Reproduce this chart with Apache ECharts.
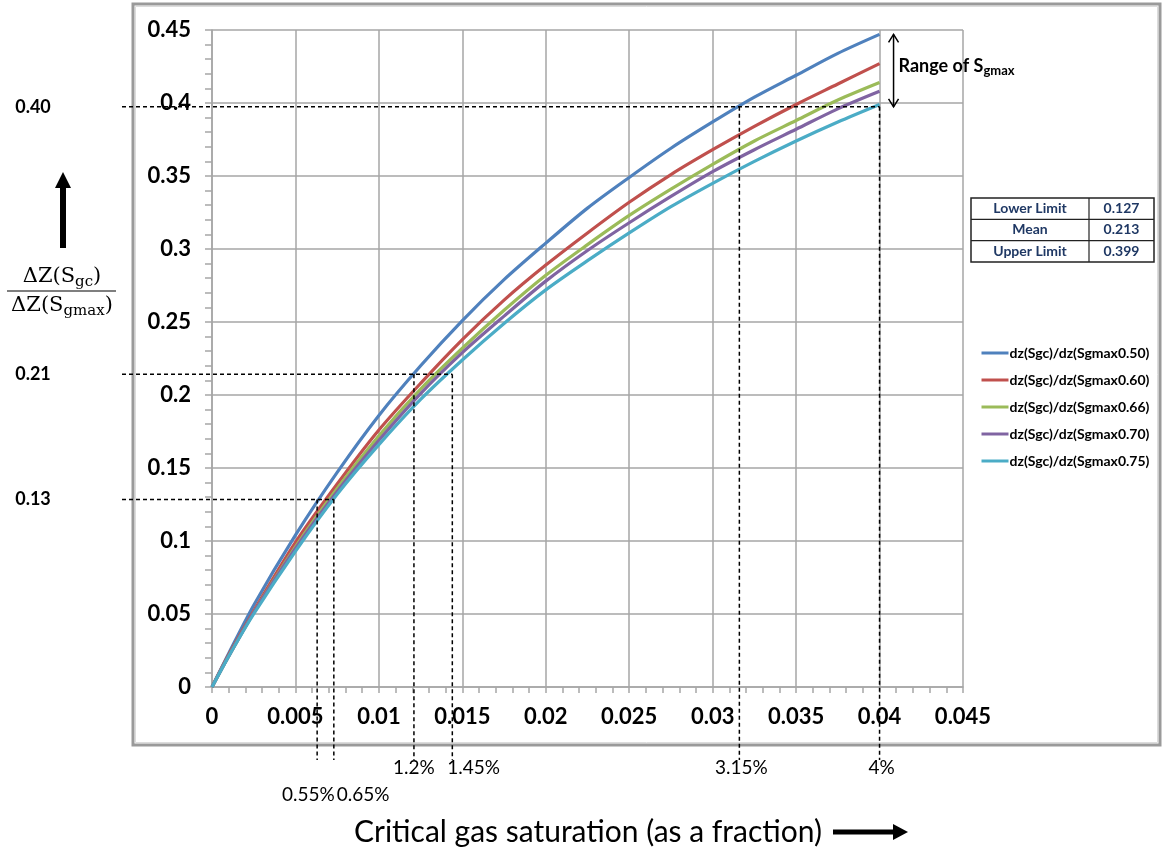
<!DOCTYPE html>
<html>
<head>
<meta charset="utf-8">
<script src="https://cdn.jsdelivr.net/npm/echarts@6/dist/echarts.min.js"></script>
<style>
  html, body { margin: 0; background: #fff; }
  #chart { width: 1169px; height: 852px; }
</style>
</head>
<body>
<div id="chart"></div>
<script>
// critical gas saturation (fraction)
const sgc = [0, 0.001, 0.0025, 0.005, 0.0075, 0.01, 0.0125, 0.015, 0.0175, 0.02, 0.0225, 0.025, 0.0275, 0.03, 0.0325, 0.035, 0.0375, 0.04]

// dz(Sgc)/dz(Sgmax) for each Sgmax
const sgmax050 = [0, 0.023, 0.056, 0.104, 0.147, 0.186, 0.220, 0.251, 0.279, 0.304, 0.328, 0.349, 0.369, 0.387, 0.404, 0.419, 0.434, 0.447]
const sgmax060 = [0, 0.022, 0.052, 0.099, 0.139, 0.176, 0.208, 0.238, 0.265, 0.289, 0.311, 0.332, 0.351, 0.368, 0.384, 0.399, 0.413, 0.427]
const sgmax066 = [0, 0.021, 0.051, 0.096, 0.136, 0.172, 0.204, 0.232, 0.258, 0.282, 0.303, 0.323, 0.341, 0.358, 0.374, 0.388, 0.402, 0.414]
const sgmax070 = [0, 0.021, 0.051, 0.095, 0.134, 0.169, 0.201, 0.229, 0.254, 0.278, 0.299, 0.318, 0.336, 0.353, 0.368, 0.382, 0.396, 0.408]
const sgmax075 = [0, 0.021, 0.050, 0.093, 0.132, 0.166, 0.197, 0.224, 0.249, 0.272, 0.292, 0.311, 0.329, 0.345, 0.360, 0.374, 0.387, 0.399]

const seriesNames = ['dz(Sgc)/dz(Sgmax0.50)', 'dz(Sgc)/dz(Sgmax0.60)', 'dz(Sgc)/dz(Sgmax0.66)', 'dz(Sgc)/dz(Sgmax0.70)', 'dz(Sgc)/dz(Sgmax0.75)']
const seriesColors = ['#4F81BD', '#C0504D', '#9BBB59', '#8064A2', '#4BACC6']
const seriesValues = [sgmax050, sgmax060, sgmax066, sgmax070, sgmax075]

// guide lines (read positions) and their labels
const guideY = [0.1284, 0.2142, 0.3974]
const guideYLabels = ['0.13', '0.21', '0.40']
const guideX = [[0.0063, 0.0073], [0.0121, 0.0144], [0.0316, 0.0400]]
const guideXLabels = [['0.55%', '0.65%'], ['1.2%', '1.45%'], ['3.15%', '4%']]

// summary table
const tableRows = ['Lower Limit', 'Mean', 'Upper Limit']
const tableValues = ['0.127', '0.213', '0.399']

const FONT = 'Lato, "Open Sans", sans-serif'
const gridGray = '#A6A6A6'

const chart = echarts.init(document.getElementById('chart'))

chart.setOption({
  animation: false,
  backgroundColor: '#fff',
  grid: { left: 212, top: 30, width: 751, height: 657 },
  legend: {
    orient: 'vertical',
    left: 975,
    top: 341,
    itemWidth: 27,
    itemHeight: 14,
    itemGap: 13,
    data: seriesNames,
    itemStyle: { opacity: 0 },
    lineStyle: { width: 3 },
    textStyle: { fontFamily: FONT, fontWeight: 'bold', fontSize: 14, color: '#000', padding: [0, 0, 0, -4] }
  },
  xAxis: {
    type: 'value',
    min: 0,
    max: 0.045,
    interval: 0.005,
    axisLine: { lineStyle: { color: gridGray, width: 1.5 } },
    axisTick: { show: true, length: 6, lineStyle: { color: gridGray, width: 1.5 } },
    minorTick: { show: true, splitNumber: 5, length: 6, lineStyle: { color: gridGray, width: 1.5 } },
    splitLine: { show: true, lineStyle: { color: gridGray, width: 1.5 } },
    axisLabel: { margin: 19, fontFamily: FONT, fontWeight: 'bold', fontSize: 22, color: '#000' }
  },
  yAxis: {
    type: 'value',
    min: 0,
    max: 0.45,
    interval: 0.05,
    axisLine: { show: true, lineStyle: { color: gridGray, width: 1.5 } },
    axisTick: { show: true, length: 7, lineStyle: { color: gridGray, width: 1.5 } },
    minorTick: { show: true, splitNumber: 5, length: 7, lineStyle: { color: gridGray, width: 1.5 } },
    splitLine: { show: true, lineStyle: { color: gridGray, width: 1.5 } },
    axisLabel: { margin: 21, fontFamily: FONT, fontWeight: 'bold', fontSize: 22, color: '#000' }
  },
  series: seriesNames.map((name, i) => ({
    name,
    type: 'line',
    smooth: 0.3,
    symbol: 'none',
    color: seriesColors[i],
    lineStyle: { width: 3.2, color: seriesColors[i] },
    data: sgc.map((x, j) => [x, seriesValues[i][j]])
  }))
})

// everything outside the plot drawn as graphic elements
const px = (x, y) => chart.convertToPixel({ gridIndex: 0 }, [x, y])
const dash = { stroke: '#000', lineWidth: 1.5, lineDash: [4, 3] }
const graphics = []

// outer chart frame
graphics.push({ type: 'rect', shape: { x: 133, y: 4, width: 1027, height: 741 }, style: { fill: null, stroke: '#9a9a9a', lineWidth: 3 }, z: 1 })
graphics.push({ type: 'rect', shape: { x: 135.5, y: 6.5, width: 1022, height: 736 }, style: { fill: null, stroke: '#dcdcdc', lineWidth: 1 }, z: 1 })

const guideBottom = 760
guideY.forEach((gy, k) => {
  const xs = guideX[k]
  const right = px(xs[1], gy)
  graphics.push({ type: 'line', shape: { x1: 122, y1: right[1], x2: right[0], y2: right[1] }, style: dash, z: 50 })
  xs.forEach((gx) => {
    const p = px(gx, gy)
    graphics.push({ type: 'line', shape: { x1: p[0], y1: right[1], x2: p[0], y2: guideBottom }, style: dash, z: 50 })
  })
  graphics.push({
    type: 'text', x: 33, y: right[1], z: 50,
    style: { text: guideYLabels[k], font: 'bold 18px ' + FONT, fill: '#000', align: 'center', verticalAlign: 'middle' }
  })
})

// percentage labels under the guides
const pctFont = '19px ' + FONT
const a = px(guideX[0][1], 0)[0]
graphics.push({ type: 'text', x: a + 1, y: 795, style: { text: guideXLabels[0][0], font: pctFont, fill: '#000', align: 'right', verticalAlign: 'middle' } })
graphics.push({ type: 'text', x: a + 3, y: 795, style: { text: guideXLabels[0][1], font: pctFont, fill: '#000', align: 'left', verticalAlign: 'middle' } })
graphics.push({ type: 'text', x: px(guideX[1][0], 0)[0], y: 768, style: { text: guideXLabels[1][0], font: pctFont, fill: '#000', align: 'center', verticalAlign: 'middle' } })
graphics.push({ type: 'text', x: px(guideX[1][1], 0)[0] - 5, y: 768, style: { text: guideXLabels[1][1], font: pctFont, fill: '#000', align: 'left', verticalAlign: 'middle' } })
graphics.push({ type: 'text', x: px(guideX[2][0], 0)[0] + 2, y: 768, style: { text: guideXLabels[2][0], font: pctFont, fill: '#000', align: 'center', verticalAlign: 'middle' } })
graphics.push({ type: 'text', x: px(guideX[2][1], 0)[0] + 2, y: 768, style: { text: guideXLabels[2][1], font: pctFont, fill: '#000', align: 'center', verticalAlign: 'middle' } })

// x axis title with arrow
graphics.push({ type: 'text', x: 822, y: 832, style: { text: 'Critical gas saturation (as a fraction)', font: '30px ' + FONT, fill: '#000', align: 'right', verticalAlign: 'middle' } })
graphics.push({ type: 'rect', shape: { x: 833, y: 829.5, width: 62, height: 5 }, style: { fill: '#000' } })
graphics.push({ type: 'polygon', shape: { points: [[893, 824], [908, 832], [893, 840]] }, style: { fill: '#000' } })

// y axis title: arrow + fraction
graphics.push({ type: 'rect', shape: { x: 60, y: 184, width: 6, height: 64 }, style: { fill: '#000' } })
graphics.push({ type: 'polygon', shape: { points: [[55, 188], [63, 172], [71, 188]] }, style: { fill: '#000' } })
const serif = '"DejaVu Serif", "Liberation Serif", serif'
const fracRich = {
  m: { fontFamily: serif, fontSize: 21, lineHeight: 26, fill: '#000' },
  s: { fontFamily: serif, fontSize: 15, lineHeight: 16, verticalAlign: 'bottom', fill: '#000' }
}
graphics.push({ type: 'text', x: 62, y: 277, style: { text: '{m|ΔZ(S}{s|gc}{m|)}', rich: fracRich, align: 'center', verticalAlign: 'middle' } })
graphics.push({ type: 'line', shape: { x1: 7, y1: 291, x2: 116, y2: 291 }, style: { stroke: '#000', lineWidth: 1.2 } })
graphics.push({ type: 'text', x: 62, y: 306, style: { text: '{m|ΔZ(S}{s|gmax}{m|)}', rich: fracRich, align: 'center', verticalAlign: 'middle' } })

// range of Sgmax annotation
const top4 = px(0.04, 0.447), bot4 = px(0.04, 0.3974)
const ax = top4[0] + 14
graphics.push({ type: 'line', shape: { x1: ax, y1: top4[1], x2: ax, y2: bot4[1] }, style: { stroke: '#000', lineWidth: 1.5 } })
graphics.push({ type: 'polyline', shape: { points: [[ax - 5, top4[1] + 8], [ax, top4[1]], [ax + 5, top4[1] + 8]] }, style: { stroke: '#000', lineWidth: 1.5, fill: null } })
graphics.push({ type: 'polyline', shape: { points: [[ax - 5, bot4[1] - 8], [ax, bot4[1]], [ax + 5, bot4[1] - 8]] }, style: { stroke: '#000', lineWidth: 1.5, fill: null } })
graphics.push({
  type: 'text', x: ax + 5, y: 66,
  style: {
    text: '{m|Range of S}{s|gmax}',
    rich: {
      m: { fontFamily: FONT, fontSize: 18, fontWeight: 'bold', lineHeight: 22, fill: '#000' },
      s: { fontFamily: FONT, fontSize: 13, fontWeight: 'bold', lineHeight: 14, verticalAlign: 'bottom', fill: '#000' }
    },
    align: 'left', verticalAlign: 'middle'
  }
})

// summary table
const tx = 971, ty = 198, tw = 183, rowH = 21.3, colX = 1089
graphics.push({ type: 'rect', shape: { x: tx, y: ty, width: tw, height: rowH * 3 }, style: { fill: '#fff', stroke: '#222', lineWidth: 1.5 }, z: 60 })
graphics.push({ type: 'line', shape: { x1: colX, y1: ty, x2: colX, y2: ty + rowH * 3 }, style: { stroke: '#222', lineWidth: 1.2 }, z: 61 })
tableRows.forEach((label, i) => {
  if (i > 0) graphics.push({ type: 'line', shape: { x1: tx, y1: ty + rowH * i, x2: tx + tw, y2: ty + rowH * i }, style: { stroke: '#222', lineWidth: 1.2 }, z: 61 })
  const cy = ty + rowH * i + rowH / 2
  graphics.push({ type: 'text', x: (tx + colX) / 2, y: cy, z: 62, style: { text: label, font: 'bold 14px ' + FONT, fill: '#1F3864', align: 'center', verticalAlign: 'middle' } })
  graphics.push({ type: 'text', x: (colX + tx + tw) / 2, y: cy, z: 62, style: { text: tableValues[i], font: 'bold 14px ' + FONT, fill: '#1F3864', align: 'center', verticalAlign: 'middle' } })
})

chart.setOption({ graphic: graphics })
</script>
</body>
</html>
